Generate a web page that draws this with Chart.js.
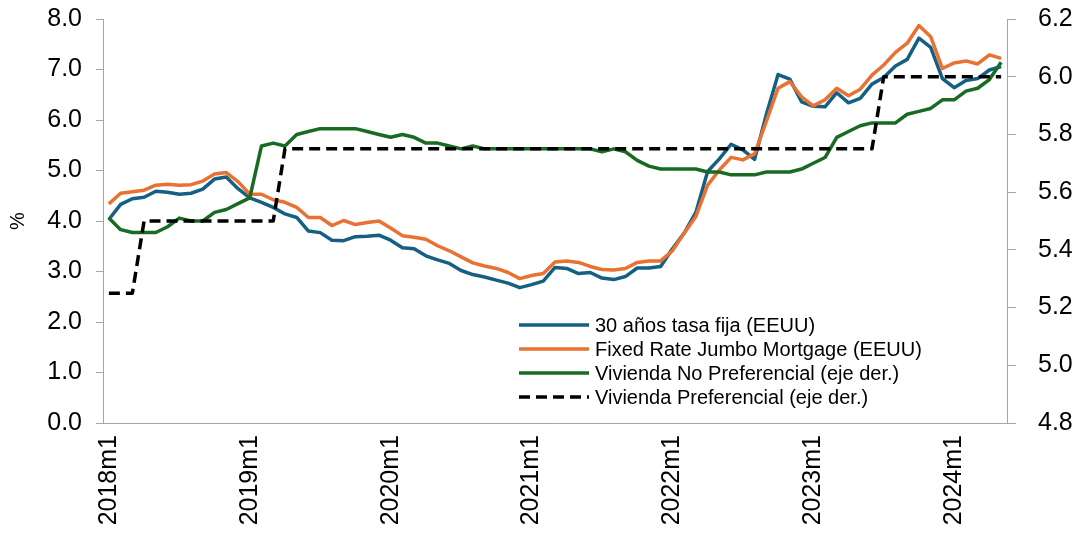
<!DOCTYPE html>
<html>
<head>
<meta charset="utf-8">
<script src="https://cdn.jsdelivr.net/npm/chart.js@4.4.1/dist/chart.umd.min.js"></script>
<style>
  html, body { margin: 0; padding: 0; background: #ffffff; }
  #wrap { width: 1080px; height: 537px; }
</style>
</head>
<body>
<div id="wrap"><canvas id="chart" width="1080" height="537"></canvas></div>
<script>
// Meses 2018m1 .. 2024m5
const anios = [2018, 2019, 2020, 2021, 2022, 2023, 2024];
const meses = [];
anios.forEach(a => {
    for (let m = 1; m <= 12; m++) {
        if (a === 2024 && m > 5) break;
        meses.push(a + 'm' + m);
    }
});

// Solo se rotula enero de cada año
const etiquetasEje = ['2018m1', '2019m1', '2020m1', '2021m1', '2022m1', '2023m1', '2024m1'];

// Tasa fija 30 años (EEUU), %
const tasaFija30 = [
    4.03, 4.33, 4.44, 4.47, 4.59, 4.57, 4.53, 4.55, 4.63, 4.83, 4.87, 4.64,
    4.46, 4.37, 4.27, 4.14, 4.07, 3.80, 3.77, 3.62, 3.61, 3.69, 3.70, 3.72,
    3.62, 3.47, 3.45, 3.31, 3.23, 3.16, 3.02, 2.94, 2.89, 2.83, 2.77, 2.68,
    2.74, 2.81, 3.08, 3.06, 2.96, 2.98, 2.87, 2.84, 2.90, 3.07, 3.07, 3.10,
    3.45, 3.76, 4.17, 4.98, 5.23, 5.52, 5.41, 5.22, 6.11, 6.90, 6.81, 6.36,
    6.27, 6.26, 6.54, 6.34, 6.43, 6.71, 6.84, 7.07, 7.20, 7.62, 7.44, 6.82,
    6.64, 6.78, 6.82, 6.99, 7.06
];

// Fixed Rate Jumbo Mortgage (EEUU), %
const jumbo = [
    4.34, 4.55, 4.58, 4.61, 4.71, 4.73, 4.71, 4.72, 4.79, 4.93, 4.96, 4.78,
    4.53, 4.53, 4.42, 4.37, 4.27, 4.07, 4.07, 3.91, 4.01, 3.93, 3.97, 4.00,
    3.86, 3.71, 3.68, 3.64, 3.51, 3.41, 3.29, 3.17, 3.11, 3.06, 2.98, 2.86,
    2.92, 2.96, 3.19, 3.21, 3.18, 3.10, 3.04, 3.03, 3.06, 3.18, 3.21, 3.21,
    3.41, 3.76, 4.09, 4.71, 5.01, 5.26, 5.21, 5.33, 5.97, 6.63, 6.76, 6.46,
    6.28, 6.40, 6.63, 6.48, 6.61, 6.89, 7.09, 7.34, 7.52, 7.87, 7.65, 7.02,
    7.13, 7.17, 7.11, 7.29, 7.22
];

// Vivienda No Preferencial (eje derecho)
const noPreferencial = [
    5.51, 5.47, 5.46, 5.46, 5.46, 5.48, 5.51, 5.50, 5.50, 5.53, 5.54, 5.56,
    5.58, 5.76, 5.77, 5.76, 5.80, 5.81, 5.82, 5.82, 5.82, 5.82, 5.81, 5.80,
    5.79, 5.80, 5.79, 5.77, 5.77, 5.76, 5.75, 5.76, 5.75, 5.75, 5.75, 5.75,
    5.75, 5.75, 5.75, 5.75, 5.75, 5.75, 5.74, 5.75, 5.74, 5.71, 5.69, 5.68,
    5.68, 5.68, 5.68, 5.67, 5.67, 5.66, 5.66, 5.66, 5.67, 5.67, 5.67, 5.68,
    5.70, 5.72, 5.79, 5.81, 5.83, 5.84, 5.84, 5.84, 5.87, 5.88, 5.89, 5.92,
    5.92, 5.95, 5.96, 5.99, 6.05
];

// Vivienda Preferencial (eje derecho)
const preferencial = [
    5.25, 5.25, 5.25, 5.50, 5.50, 5.50, 5.50, 5.50, 5.50, 5.50, 5.50, 5.50,
    5.50, 5.50, 5.50, 5.75, 5.75, 5.75, 5.75, 5.75, 5.75, 5.75, 5.75, 5.75,
    5.75, 5.75, 5.75, 5.75, 5.75, 5.75, 5.75, 5.75, 5.75, 5.75, 5.75, 5.75,
    5.75, 5.75, 5.75, 5.75, 5.75, 5.75, 5.75, 5.75, 5.75, 5.75, 5.75, 5.75,
    5.75, 5.75, 5.75, 5.75, 5.75, 5.75, 5.75, 5.75, 5.75, 5.75, 5.75, 5.75,
    5.75, 5.75, 5.75, 5.75, 5.75, 5.75, 6.00, 6.00, 6.00, 6.00, 6.00, 6.00,
    6.00, 6.00, 6.00, 6.00, 6.00
];

const fuente = '"Liberation Sans", Arial, sans-serif';
const gris = '#a6a6a6';

// Leyenda dibujada dentro del área del gráfico
const leyendaInterna = {
    id: 'leyendaInterna',
    afterDatasetsDraw(chart) {
        const ctx = chart.ctx;
        const x0 = chart.chartArea.left + 416;
        let y = chart.chartArea.top + 306;
        chart.data.datasets.forEach(ds => {
            ctx.save();
            ctx.strokeStyle = ds.borderColor;
            ctx.lineWidth = ds.borderWidth;
            ctx.setLineDash(ds.borderDash || []);
            ctx.beginPath();
            ctx.moveTo(x0, y);
            ctx.lineTo(x0 + 70, y);
            ctx.stroke();
            ctx.setLineDash([]);
            ctx.fillStyle = '#000000';
            ctx.font = '20px ' + fuente;
            ctx.textBaseline = 'middle';
            ctx.fillText(ds.label, x0 + 76, y + 1);
            ctx.restore();
            y += 24;
        });
    }
};

// Ancho fijo del eje vertical, sin margen extra arriba/abajo
const ajustarEjeY = ancho => s => {
    s.width = ancho;
    s.paddingTop = 0;
    s.paddingBottom = 0;
};

const ctx = document.getElementById('chart').getContext('2d');
new Chart(ctx, {
    type: 'line',
    data: {
        labels: meses,
        datasets: [{
            label: '30 años tasa fija (EEUU)',
            data: tasaFija30,
            borderColor: '#156082',
            borderWidth: 3.5,
            yAxisID: 'y',
            order: 3
        }, {
            label: 'Fixed Rate Jumbo Mortgage (EEUU)',
            data: jumbo,
            borderColor: '#E97132',
            borderWidth: 3.5,
            yAxisID: 'y',
            order: 2
        }, {
            label: 'Vivienda No Preferencial (eje der.)',
            data: noPreferencial,
            borderColor: '#196B24',
            borderWidth: 3.5,
            yAxisID: 'y1',
            order: 1
        }, {
            label: 'Vivienda Preferencial (eje der.)',
            data: preferencial,
            borderColor: '#000000',
            borderWidth: 3.5,
            borderDash: [11, 6],
            yAxisID: 'y1',
            order: 0
        }]
    },
    options: {
        responsive: false,
        animation: false,
        devicePixelRatio: 1,
        layout: { padding: { top: 19, right: 0, bottom: 0, left: 0 } },
        elements: {
            point: { radius: 0 },
            line: { tension: 0, borderCapStyle: 'butt', borderJoinStyle: 'round' }
        },
        plugins: {
            legend: { display: false },
            tooltip: { enabled: false }
        },
        scales: {
            x: {
                type: 'category',
                offset: true,
                grid: { display: false, drawTicks: false },
                border: { color: gris, width: 1 },
                ticks: {
                    autoSkip: false,
                    maxRotation: 90,
                    minRotation: 90,
                    padding: 12,
                    color: '#000000',
                    font: { family: fuente, size: 25 },
                    callback: (v, i) => etiquetasEje.includes(meses[i]) ? meses[i] : ''
                },
                afterFit: s => { s.height = 114; }
            },
            y: {
                position: 'left',
                min: 0,
                max: 8,
                grid: { drawOnChartArea: false, tickLength: 7, color: gris },
                border: { color: gris, width: 1 },
                ticks: {
                    stepSize: 1,
                    padding: 14,
                    color: '#000000',
                    font: { family: fuente, size: 25 },
                    callback: v => Number(v).toFixed(1)
                },
                title: {
                    display: true,
                    text: '%',
                    color: '#000000',
                    font: { family: fuente, size: 20 },
                    padding: { top: 6, bottom: 0 }
                },
                afterFit: ajustarEjeY(103)
            },
            y1: {
                position: 'right',
                min: 4.8,
                max: 6.2,
                grid: { drawOnChartArea: false, tickLength: 9, color: gris },
                border: { color: gris, width: 1 },
                ticks: {
                    stepSize: 0.2,
                    padding: 22,
                    color: '#000000',
                    font: { family: fuente, size: 25 },
                    callback: v => Number(v).toFixed(1)
                },
                afterFit: ajustarEjeY(73)
            }
        }
    },
    plugins: [leyendaInterna]
});
</script>
</body>
</html>
